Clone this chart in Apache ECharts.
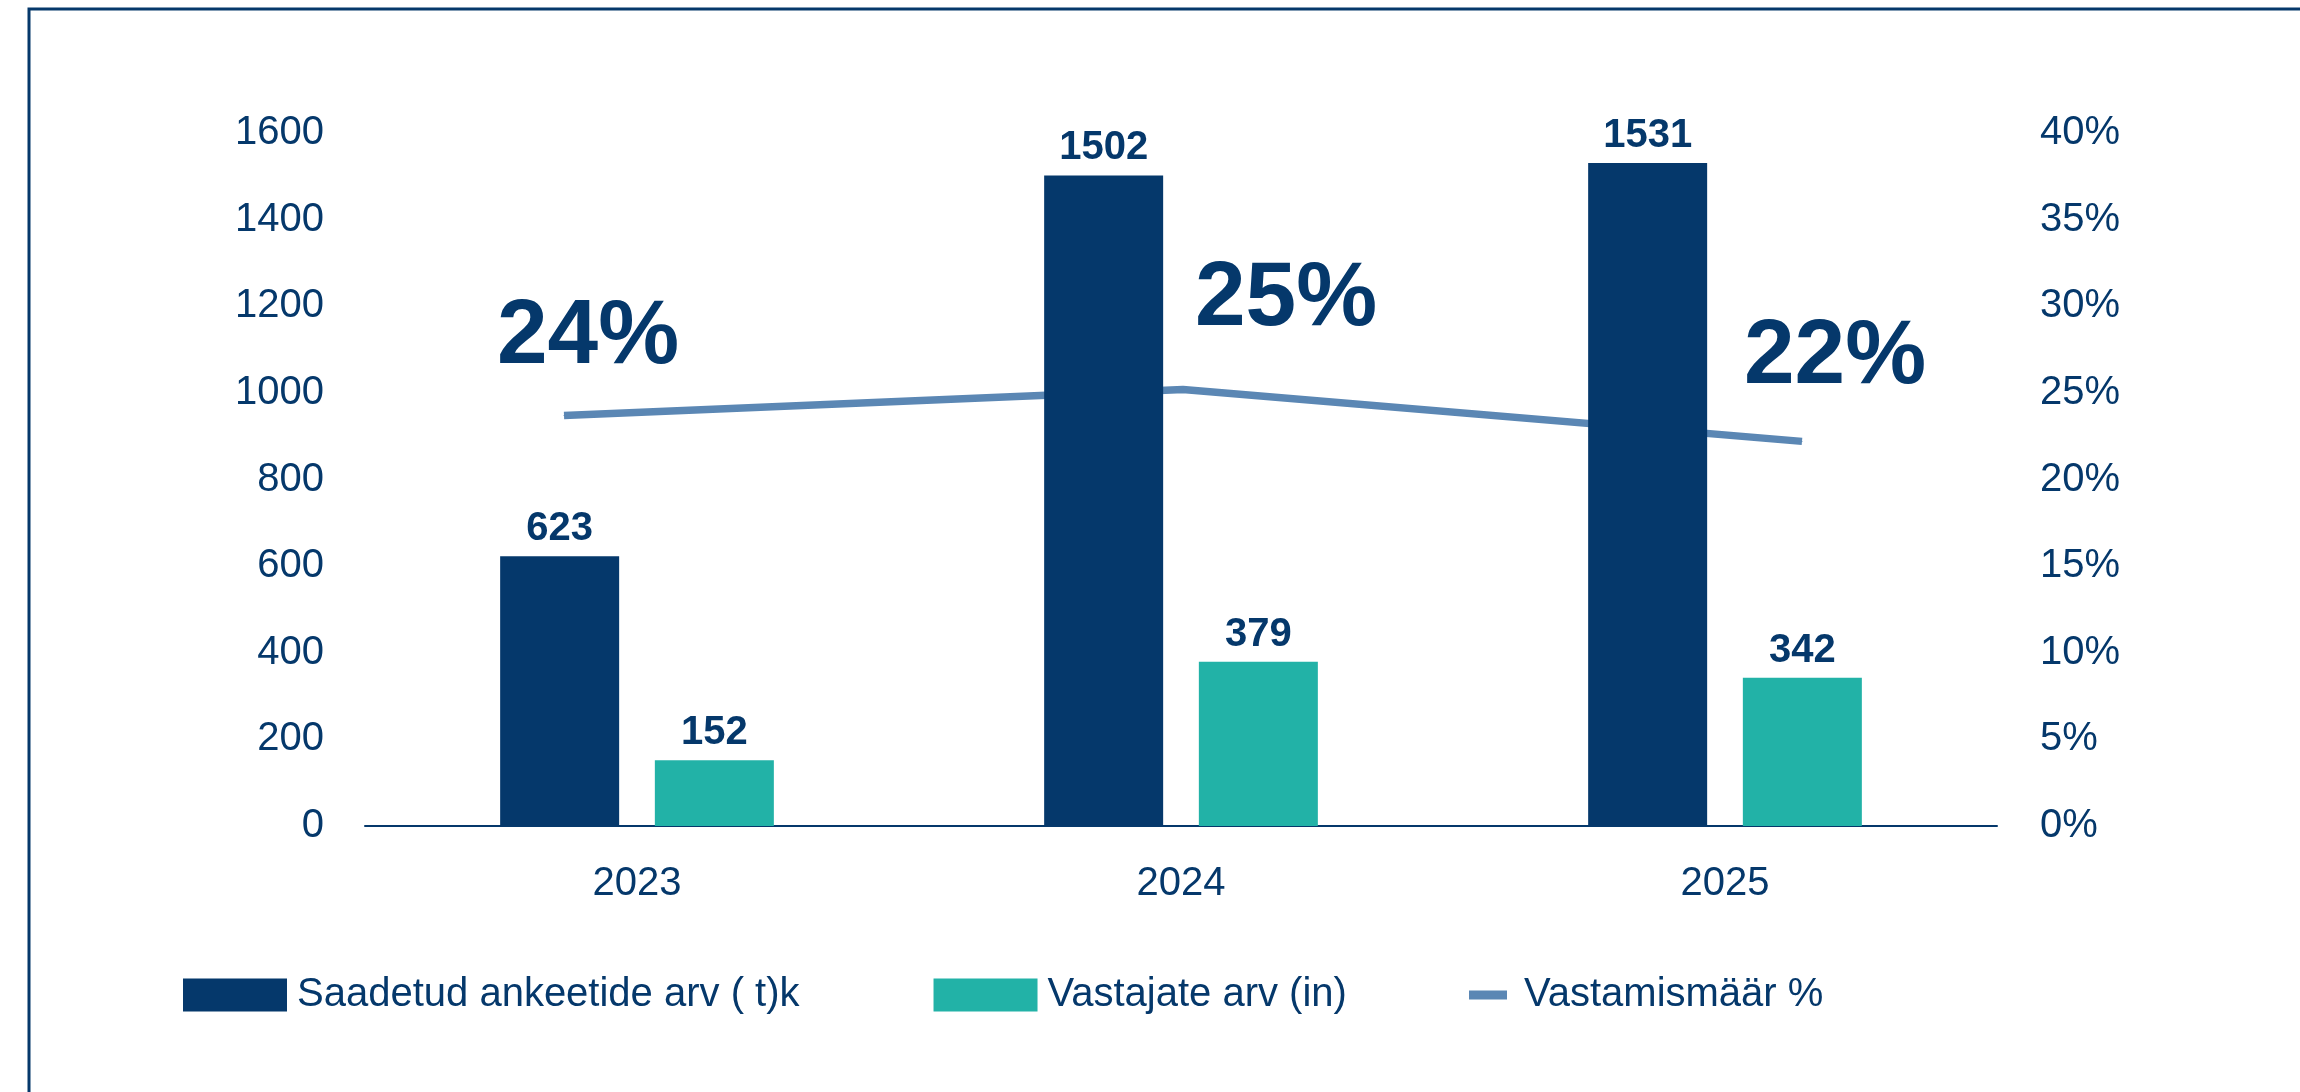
<!DOCTYPE html>
<html>
<head>
<meta charset="utf-8">
<script src="https://cdn.jsdelivr.net/npm/echarts@6/dist/echarts.min.js"></script>
<style>
  html, body { margin: 0; padding: 0; background: #fff; }
  #chart { width: 2300px; height: 1092px; }
</style>
</head>
<body>
<div id="chart"></div>
<script>
// andmed
const years = ["2023", "2024", "2025"];
const sentCounts = [623, 1502, 1531];
const respondentCounts = [152, 379, 342];
const responseRates = [0.237, 0.252, 0.222];
const leftTicks = { min: 0, max: 1600, interval: 200 };
const rightTicks = { min: 0, max: 0.4, interval: 0.05 };

const seriesNames = ["Saadetud ankeetide arv ( t)k", "Vastajate arv (in)", "Vastamismäär %"];

const NAVY = "#05386B";
const TEAL = "#22B2A7";
const LINE_BLUE = "#5B87B4";
const FONT = "'Liberation Sans', Arial, sans-serif";

// suurte protsendisiltide nihked punktist
const rateLabelOffsets = [[24, -77], [103, -90], [33, -83]];

const chart = echarts.init(document.getElementById("chart"));

const option = {
  animation: false,
  backgroundColor: "#fff",
  textStyle: { fontFamily: FONT, color: NAVY },
  graphic: [
    {
      type: "rect",
      shape: { x: 29, y: 9, width: 2400, height: 1200 },
      style: { fill: "none", stroke: NAVY, lineWidth: 3 },
      silent: true,
    },
  ],
  grid: [
    { left: 365, right: 303, top: 133, bottom: 266 },
    { left: 564, right: 498, top: 133, bottom: 266 },
  ],
  legend: [
    {
      data: [seriesNames[0], seriesNames[1]],
      left: 178,
      top: 970,
      icon: "rect",
      itemWidth: 104,
      itemHeight: 33,
      itemGap: 134,
      textStyle: { fontSize: 40, color: NAVY, fontFamily: FONT, padding: [0, 0, 0, 5] },
    },
    {
      data: [seriesNames[2]],
      left: 1464,
      top: 970,
      icon: "rect",
      itemWidth: 38,
      itemHeight: 9,
      textStyle: { fontSize: 40, color: NAVY, fontFamily: FONT, padding: [0, 0, 0, 12] },
    },
  ],
  xAxis: [
    {
      type: "category",
      gridIndex: 0,
      data: years,
      axisLine: { lineStyle: { color: NAVY, width: 2 } },
      axisTick: { show: false },
      axisLabel: { fontSize: 40, color: NAVY, margin: 38, fontFamily: FONT },
    },
    {
      type: "category",
      gridIndex: 1,
      data: years,
      boundaryGap: false,
      show: false,
    },
  ],
  yAxis: [
    {
      type: "value",
      gridIndex: 0,
      min: leftTicks.min,
      max: leftTicks.max,
      interval: leftTicks.interval,
      splitLine: { show: false },
      axisLine: { show: false },
      axisTick: { show: false },
      axisLabel: {
        fontSize: 40,
        color: NAVY,
        margin: 41,
        fontFamily: FONT,
        formatter: (v) => String(v),
      },
    },
    {
      type: "value",
      gridIndex: 0,
      position: "right",
      min: rightTicks.min,
      max: rightTicks.max,
      interval: rightTicks.interval,
      splitLine: { show: false },
      axisLine: { show: false },
      axisTick: { show: false },
      axisLabel: {
        fontSize: 40,
        color: NAVY,
        margin: 43,
        fontFamily: FONT,
        formatter: (v) => Math.round(v * 100) + "%",
      },
    },
    {
      type: "value",
      gridIndex: 1,
      min: rightTicks.min,
      max: rightTicks.max,
      show: false,
    },
  ],
  series: [
    {
      name: seriesNames[0],
      type: "bar",
      xAxisIndex: 0,
      yAxisIndex: 0,
      data: sentCounts,
      barWidth: 119,
      barGap: "30%",
      itemStyle: { color: NAVY },
      label: {
        show: true,
        position: "top",
        distance: 7,
        fontSize: 40,
        fontWeight: "bold",
        color: NAVY,
        fontFamily: FONT,
      },
      z: 3,
    },
    {
      name: seriesNames[1],
      type: "bar",
      xAxisIndex: 0,
      yAxisIndex: 0,
      data: respondentCounts,
      barWidth: 119,
      barGap: "30%",
      itemStyle: { color: TEAL },
      label: {
        show: true,
        position: "top",
        distance: 7,
        fontSize: 40,
        fontWeight: "bold",
        color: NAVY,
        fontFamily: FONT,
      },
      z: 3,
    },
    {
      name: seriesNames[2],
      type: "line",
      xAxisIndex: 1,
      yAxisIndex: 2,
      data: responseRates.map((v, i) => ({
        value: v,
        label: { offset: rateLabelOffsets[i] },
      })),
      symbol: "circle",
      symbolSize: 1,
      lineStyle: { color: LINE_BLUE, width: 7.5, cap: "butt" },
      itemStyle: { color: LINE_BLUE },
      label: {
        show: true,
        position: "inside",
        fontSize: 91,
        fontWeight: "bold",
        color: NAVY,
        fontFamily: FONT,
        formatter: (p) => Math.round(p.value * 100) + "%",
      },
      z: 2,
    },
  ],
};

chart.setOption(option);
</script>
</body>
</html>
